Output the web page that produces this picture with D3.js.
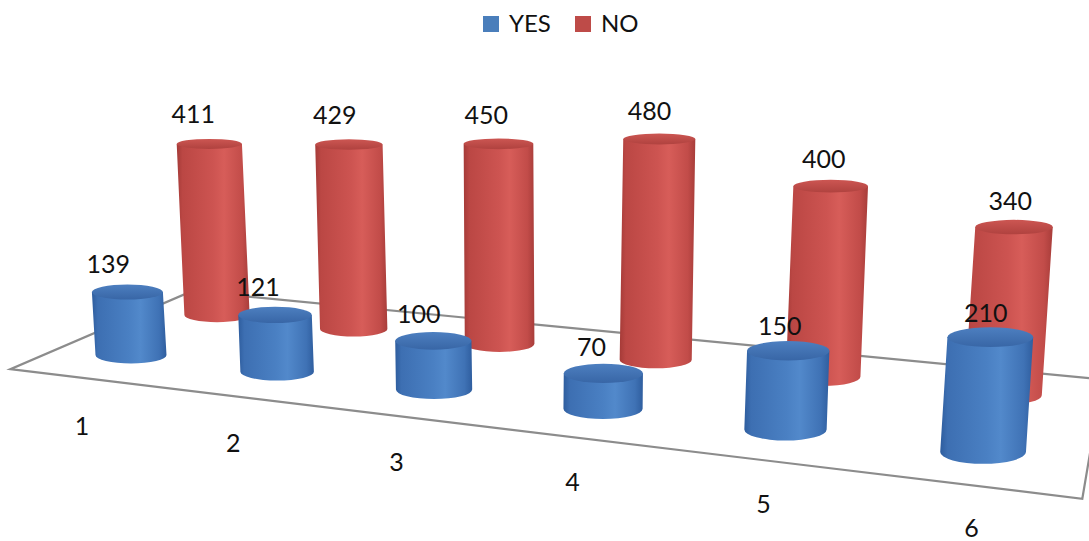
<!DOCTYPE html>
<html><head><meta charset="utf-8">
<script src="https://cdn.jsdelivr.net/npm/d3@7"></script>
<style>
html,body{margin:0;padding:0;background:#fff;}
svg{display:block;font-family:Lato,"Open Sans",sans-serif;}
</style>
</head><body>
<svg id="chart" width="1089" height="541"></svg>
<script>
// ---- data ----
const categories = ["1", "2", "3", "4", "5", "6"];
const seriesNames = ["YES", "NO"];
const yesValues = [139, 121, 100, 70, 150, 210];
const noValues = [411, 429, 450, 480, 400, 340];
const valueDomain = [0, 500];

// ---- styles ----
const palette = {
  YES: {legend: "#4a7ebb", body: ["#2e5d9e", "#3d6fb2", "#4a80c3", "#5289cb", "#3f72b5", "#2f5e9f"], top: ["#4d7fc0", "#3866a6"]},
  NO:  {legend: "#be4b48", body: ["#a53b38", "#bb4744", "#cd5451", "#d75d59", "#c24c49", "#a83d3a"], top: ["#cc5652", "#b0423f"]}
};
const bodyOffsets = [0, 0.08, 0.5, 0.65, 0.9, 1];

const svg = d3.select("#chart");

// ---- scales (world space) ----
const uScale = d3.scalePoint().domain(categories).range([0, 1]);      // along category axis
const vScale = d3.scalePoint().domain(seriesNames).range([0, 1]);     // depth (YES front, NO back)
const hScale = d3.scaleLinear().domain(valueDomain).range([0, 226.5]); // height in px at unit scale

// ---- perspective camera (floor homography) ----
const P = {a: 683, b: 105.2, c: 131, d: 19.3, e: -12.2, f: 355, g: -0.172, h: 0.0884};
function proj(u, v) {
  const w = 1 + P.g * u + P.h * v;
  return [(P.a * u + P.b * v + P.c) / w, (P.d * u + P.e * v + P.f) / w, 1 / w];
}
const VP = [540, 7500]; // vertical vanishing point (slight lean)
function lean(bx, by, ty) { return VP[0] + (bx - VP[0]) * (VP[1] - ty) / (VP[1] - by); }
function ellRatio(y) { return 0.15 + (y - 137) * 0.0004; }
const R = 35.5;

// ---- gradients ----
const defs = svg.append("defs");
seriesNames.forEach(s => {
  const gb = defs.append("linearGradient").attr("id", "body-" + s)
    .attr("x1", 0).attr("y1", 0).attr("x2", 1).attr("y2", 0);
  palette[s].body.forEach((c, i) => gb.append("stop").attr("offset", bodyOffsets[i]).attr("stop-color", c));
  const gt = defs.append("linearGradient").attr("id", "top-" + s)
    .attr("x1", 0).attr("y1", 0).attr("x2", 0).attr("y2", 1);
  gt.append("stop").attr("offset", 0).attr("stop-color", palette[s].top[0]);
  gt.append("stop").attr("offset", 1).attr("stop-color", palette[s].top[1]);
});

// ---- floor ----
const uHalf = uScale.step() / 2, vHalf = vScale.step() / 2;
const floorPts = [
  proj(-uHalf, -vHalf), proj(1 + uHalf, -vHalf),
  proj(1 + uHalf, 1 + vHalf), proj(-uHalf, 1 + vHalf)
];
svg.append("path")
  .attr("d", d3.line()(floorPts.map(p => [p[0], p[1]])) + "Z")
  .attr("fill", "#fff").attr("stroke", "#8c8c8c").attr("stroke-width", 2.2)
  .attr("stroke-linejoin", "miter");

// ---- build cylinders ----
const seriesValues = {YES: yesValues, NO: noValues};
function cylinder(series, cat, value) {
  const u = uScale(cat), v = vScale(series);
  const [bx, by, s] = proj(u, v);
  const H = hScale(value) * s;
  const ty = by - H;
  const tx = lean(bx, by, ty);
  const rx = R * s;
  const ryB = rx * ellRatio(by), ryT = rx * ellRatio(ty);
  const f = proj(u, v - 0.2);
  return {series, cat, value, bx, by, tx, ty, rx, ryB, ryT,
          lx: tx + (f[0] - bx), ly: ty + (f[1] - by) - 28};
}
const drawOrder = ["NO", "YES"];
const cyls = [];
drawOrder.forEach(sn => categories.forEach((c, i) => cyls.push(cylinder(sn, c, seriesValues[sn][i]))));

const gC = svg.append("g");
cyls.forEach(c => {
  const g = gC.append("g");
  g.append("path")
    .attr("d", `M${c.tx - c.rx},${c.ty} L${c.bx - c.rx},${c.by} A${c.rx},${c.ryB} 0 0 0 ${c.bx + c.rx},${c.by} L${c.tx + c.rx},${c.ty} Z`)
    .attr("fill", `url(#body-${c.series})`);
  g.append("ellipse")
    .attr("cx", c.tx).attr("cy", c.ty).attr("rx", c.rx).attr("ry", c.ryT)
    .attr("fill", `url(#top-${c.series})`);
});

// ---- value labels ----
svg.append("g").selectAll("text").data(cyls).join("text")
  .attr("x", d => d.lx).attr("y", d => d.ly)
  .attr("text-anchor", "middle").attr("font-size", 25).attr("fill", "#111")
  .text(d => d.value);

// ---- category labels ----
svg.append("g").selectAll("text").data(categories).join("text")
  .attr("x", d => proj(uScale(d), -vHalf)[0])
  .attr("y", d => proj(uScale(d), -vHalf)[1] + 57 - 5 * uScale(d))
  .attr("text-anchor", "middle").attr("font-size", 25).attr("fill", "#111")
  .text(d => d);

// ---- legend ----
const legendX = d3.scalePoint().domain(seriesNames).range([483, 575]);
const lg = svg.append("g").selectAll("g").data(seriesNames).join("g")
  .attr("transform", d => `translate(${legendX(d)},16)`);
lg.append("rect").attr("width", 16).attr("height", 16).attr("fill", d => palette[d].legend);
lg.append("text").attr("x", 26).attr("y", 16).attr("font-size", 24).attr("fill", "#111").text(d => d);
</script>
</body></html>
